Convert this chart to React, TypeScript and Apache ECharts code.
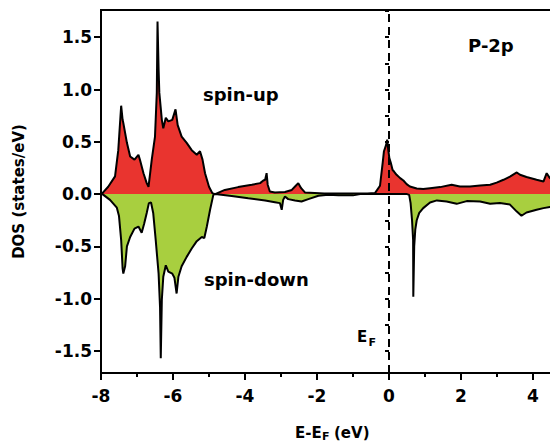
import React, { useEffect, useRef } from "react";
import * as echarts from "echarts";

const spinUpE = [
  -8.0, -7.96, -7.8, -7.61, -7.52, -7.44, -7.4, -7.38, -7.28, -7.19, -7.07, -6.96, -6.92, -6.82, -6.73, -6.68,
  -6.59, -6.5, -6.45, -6.43, -6.4, -6.38, -6.31, -6.27, -6.2, -6.13, -6.02, -5.93, -5.87, -5.76, -5.62, -5.48,
  -5.34, -5.25, -5.18, -5.11, -5.0, -4.91, -4.83, -4.56, -4.19, -3.81, -3.58, -3.49, -3.44, -3.4, -3.37, -3.31,
  -3.17, -2.89, -2.7, -2.59, -2.52, -2.44, -2.33, -1.8, -1.2, -0.6, -0.39, -0.25, -0.175, -0.14, -0.08, -0.05,
  -0.02, 0.01, 0.05, 0.1, 0.14, 0.21, 0.31, 0.4, 0.49, 0.58, 0.77, 0.95, 1.14, 1.42, 1.74, 1.97, 2.25, 2.53,
  2.81, 2.99, 3.18, 3.36, 3.55, 3.64, 3.82, 4.1, 4.29, 4.38, 4.47, 4.7, 5.0,
];
const spinUpDOS = [
  0, 0.01, 0.07, 0.17, 0.42, 0.845, 0.71, 0.68, 0.49, 0.36, 0.33, 0.376, 0.33, 0.2, 0.105, 0.07,
  0.33, 0.55, 0.97, 1.65, 1.19, 0.97, 0.71, 0.63, 0.73, 0.695, 0.71, 0.81, 0.66, 0.55, 0.49, 0.42,
  0.376, 0.41, 0.33, 0.2, 0.07, 0.01, 0.0, 0.04, 0.067, 0.09, 0.105, 0.13, 0.137, 0.2, 0.09, 0.025,
  0.015, 0.02, 0.04, 0.08, 0.105, 0.057, 0.015, 0.005, 0.005, 0.005, 0.01, 0.08, 0.3, 0.41, 0.47, 0.52,
  0.42, 0.345, 0.3, 0.23, 0.216, 0.185, 0.153, 0.13, 0.096, 0.073, 0.054, 0.048, 0.057, 0.067, 0.089, 0.073, 0.073, 0.082,
  0.089, 0.11, 0.137, 0.168, 0.207, 0.185, 0.163, 0.137, 0.12, 0.2, 0.153, 0.14, 0.12,
];

const spinDownE = [
  -8.0, -7.96, -7.75, -7.56, -7.5, -7.44, -7.4, -7.38, -7.33, -7.28, -7.19, -7.07, -6.96, -6.87, -6.8, -6.73,
  -6.67, -6.61, -6.55, -6.48, -6.4, -6.36, -6.34, -6.31, -6.27, -6.2, -6.13, -6.02, -5.96, -5.9, -5.85, -5.76,
  -5.62, -5.48, -5.34, -5.2, -5.13, -5.06, -4.97, -4.88, -4.83, -4.37, -3.91, -3.44, -3.17, -3.03, -2.98, -2.94,
  -2.89, -2.8, -2.61, -2.43, -2.24, -1.96, -1.69, -1.4, -1.0, -0.8, -0.4, 0.5, 0.56, 0.6, 0.64, 0.67,
  0.675, 0.7, 0.73, 0.77, 0.84, 0.95, 1.14, 1.33, 1.6, 1.88, 2.16, 2.53, 2.81, 3.08, 3.36, 3.55,
  3.68, 3.82, 4.1, 4.29, 4.47, 4.7, 5.0,
];
const spinDownDOS = [
  0, 0, -0.055, -0.13, -0.21, -0.44, -0.71, -0.76, -0.69, -0.5, -0.41, -0.33, -0.31, -0.37, -0.28, -0.18,
  -0.086, -0.08, -0.18, -0.44, -0.76, -1.08, -1.57, -1.01, -0.79, -0.68, -0.74, -0.76, -0.8, -0.95, -0.79, -0.69,
  -0.6, -0.52, -0.45, -0.41, -0.42, -0.31, -0.15, -0.007, 0, -0.017, -0.04, -0.06, -0.077, -0.086, -0.15, -0.055,
  -0.023, -0.048, -0.06, -0.07, -0.048, -0.016, -0.005, -0.012, -0.012, 0, 0, 0, -0.007, -0.086, -0.25, -0.44,
  -0.98, -0.5, -0.34, -0.25, -0.18, -0.134, -0.08, -0.06, -0.07, -0.093, -0.067, -0.07, -0.093, -0.086, -0.1, -0.167,
  -0.207, -0.176, -0.15, -0.134, -0.124, -0.12, -0.11,
];

const xRange = [-8, 5];
const yRange = [-1.71, 1.76];
const fermiLevel = 0;

const FONT = '"DejaVu Sans", "Liberation Sans", Arial, sans-serif';

export default function App() {
  const ref = useRef<HTMLDivElement>(null);

  useEffect(() => {
    if (!ref.current) return;
    const chart = echarts.init(ref.current, null, { renderer: "svg" });
    const upData = spinUpE.map((e, i) => [e, spinUpDOS[i]]);
    const downData = spinDownE.map((e, i) => [e, spinDownDOS[i]]);

    const labelStyle = {
      fontFamily: FONT,
      fontWeight: "bold" as const,
      fontSize: 17,
      color: "#000",
    };

    const txt = (text: string, x: number, y: number, size: number, align = "left") => ({
      type: "text",
      x,
      y,
      silent: true,
      style: {
        text,
        fill: "#000",
        font: `bold ${size}px ${FONT}`,
        align,
        verticalAlign: "middle",
        textAlign: align,
        textVerticalAlign: "middle",
      },
    });

    chart.setOption({
      animation: false,
      backgroundColor: "#fff",
      grid: {
        left: 101,
        top: 10,
        bottom: 70,
        width: 468,
        outerBoundsMode: "none",
        containLabel: false,
        show: true,
        borderColor: "#000",
        borderWidth: 2,
        backgroundColor: "transparent",
      },
      xAxis: {
        type: "value",
        min: xRange[0],
        max: xRange[1],
        interval: 2,
        axisLine: { show: true, onZero: false, lineStyle: { color: "#000", width: 2 } },
        axisTick: { show: true, length: 7, lineStyle: { color: "#000", width: 2 } },
        minorTick: { show: true, splitNumber: 2, length: 4, lineStyle: { color: "#000", width: 2 } },
        splitLine: { show: false },
        minorSplitLine: { show: false },
        axisLabel: {
          ...labelStyle,
          margin: 14,
          showMaxLabel: false,
          formatter: (v: number) => (Math.abs(v % 2) < 1e-6 ? String(v) : ""),
        },
      },
      yAxis: [
        {
          type: "value",
          min: yRange[0],
          max: yRange[1],
          minInterval: 0.5,
          maxInterval: 0.5,
          axisLine: { show: true, onZero: false, lineStyle: { color: "#000", width: 2 } },
          axisTick: { show: true, length: 7, lineStyle: { color: "#000", width: 2 } },
          splitLine: { show: false },
          axisLabel: {
            ...labelStyle,
            margin: 9,
            showMinLabel: false,
            showMaxLabel: false,
            formatter: (v: number) =>
              Math.abs(v * 2 - Math.round(v * 2)) < 1e-6 ? v.toFixed(1) : "",
          },
          name: "DOS (states/eV)",
          nameLocation: "middle",
          nameGap: 75,
          nameTextStyle: { fontFamily: FONT, fontWeight: "bold", fontSize: 15, color: "#000" },
        },
        {
          type: "value",
          min: yRange[0],
          max: yRange[1],
          minInterval: 0.25,
          maxInterval: 0.25,
          position: "left",
          offset: 0,
          axisLine: { show: false },
          axisTick: { show: true, length: 4, lineStyle: { color: "#000", width: 2 } },
          axisLabel: { show: false },
          splitLine: { show: false },
        },
      ],
      series: [
        {
          name: "spin-up",
          type: "line",
          data: upData,
          symbol: "none",
          lineStyle: { color: "#000", width: 2 },
          areaStyle: { color: "#e9342f", opacity: 1 },
          z: 2,
        },
        {
          name: "spin-down",
          type: "line",
          data: downData,
          symbol: "none",
          lineStyle: { color: "#000", width: 2 },
          areaStyle: { color: "#a8cf3f", opacity: 1 },
          z: 2,
        },
        {
          name: "EF",
          type: "line",
          data: [],
          z: 5,
          markLine: {
            silent: true,
            symbol: ["none", "none"],
            label: { show: false },
            lineStyle: { color: "#000", type: [8, 5], width: 2 },
            data: [{ xAxis: fermiLevel }],
          },
        },
      ],
      graphic: [
        txt("spin-up", 203, 94, 18),
        txt("spin-down", 204, 279, 18),
        txt("P-2p", 468, 45, 18),
        txt("E", 357, 336.5, 15),
        txt("F", 368.5, 342, 11),
        txt("E-E", 295, 432.5, 15),
        txt("F", 322, 436.5, 11),
        txt("(eV)", 334, 432.5, 15),
      ],
    });
    return () => chart.dispose();
  }, []);

  return (
    <div
      ref={ref}
      style={{ position: "fixed", left: 0, top: 0, width: 550, height: 443, background: "#fff" }}
    />
  );
}
